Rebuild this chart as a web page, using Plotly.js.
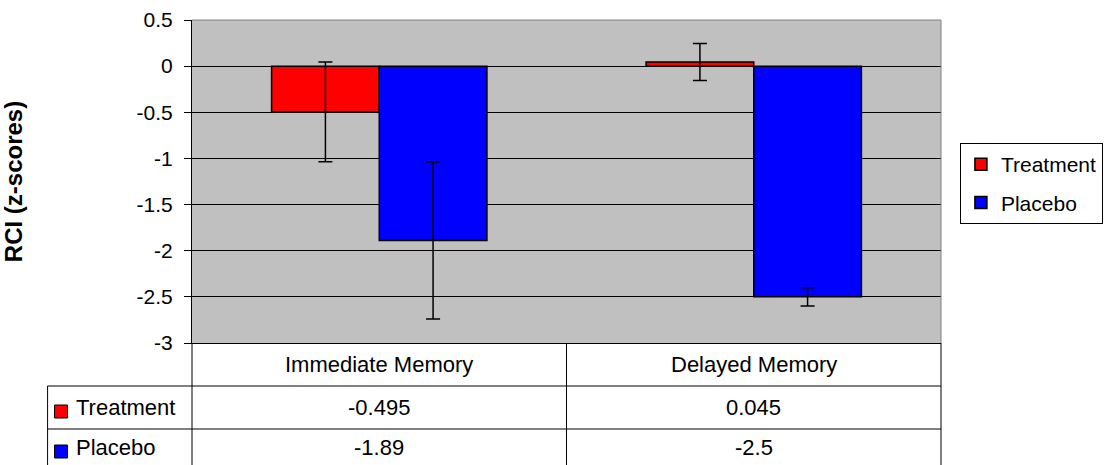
<!DOCTYPE html>
<html>
<head>
<meta charset="utf-8">
<script src="https://cdn.plot.ly/plotly-3.0.1.min.js"></script>
<style>html,body{margin:0;padding:0;background:#fff;}#chart{width:1115px;height:465px;}</style>
</head>
<body>
<div id="chart"></div>
<script>
// ---- data ----
const categories = ["Immediate Memory", "Delayed Memory"];
const seriesNames = ["Treatment", "Placebo"];
const treatment = [-0.495, 0.045];
const placebo = [-1.89, -2.5];
const treatmentErr = [0.54, 0.2];
const placeboErr = [0.85, 0.1];
const yTickVals = [0.5, 0, -0.5, -1, -1.5, -2, -2.5, -3];
const yTickText = ["0.5", "0", "-0.5", "-1", "-1.5", "-2", "-2.5", "-3"];
const tableLabels = [treatment.map(v => String(v)), placebo.map(v => String(v))];
const colors = ["#FF0000", "#0000FF"];

// ---- geometry helpers (plot area: x 192..944, y 20..343) ----
const L = 192, R = 944, T = 20, B = 343;
const px = x => (x - L) / (R - L);
const py = y => (B - y) / (B - T);
const FONT = '"Liberation Sans", Arial, sans-serif';

const errStyle = {type: 'data', visible: true, color: '#000', thickness: 1.5, width: 7};
const traces = [
  {type: 'bar', name: seriesNames[0], x: categories, y: treatment,
   marker: {color: colors[0], line: {color: '#000', width: 1.5}},
   error_y: Object.assign({array: treatmentErr}, errStyle), legendgroup: 'a'},
  {type: 'bar', name: seriesNames[1], x: categories, y: placebo,
   marker: {color: colors[1], line: {color: '#000', width: 1.5}},
   error_y: Object.assign({array: placeboErr}, errStyle), legendgroup: 'b'}
];

const shapes = [];
const line = (x0, y0, x1, y1, color) => shapes.push({type: 'line', xref: 'paper', yref: 'paper',
  x0: px(x0), y0: py(y0), x1: px(x1), y1: py(y1), line: {color: color || '#000', width: 1}});
// plot border (top & right) gray
line(L, T, R, T, '#808080');
line(R, T, R, B, '#808080');
// table grid
line(L, B, L, 465);
line(568, B, 568, 465);
line(R, B, R, 465);
line(47, 386, R, 386);
line(47, 429, R, 429);
line(47, 386, 47, 465);
// table legend keys
const rowCenters = [407.5, 447];
const keyBoxes = [[405, 418], [445, 458]];
seriesNames.forEach((n, i) => {
  shapes.push({type: 'rect', xref: 'paper', yref: 'paper', x0: px(54), x1: px(67),
    y0: py(keyBoxes[i][0]), y1: py(keyBoxes[i][1]), fillcolor: colors[i], line: {color: '#000', width: 1}});
});

const annotations = [];
const tf = {family: FONT, size: 22, color: '#000'};
categories.forEach((c, j) => {
  annotations.push({xref: 'x', yref: 'paper', x: c, y: py(364), text: c, showarrow: false, font: tf, xanchor: 'center', yanchor: 'middle'});
  tableLabels.forEach((row, i) => {
    annotations.push({xref: 'x', yref: 'paper', x: c, y: py(rowCenters[i]), text: row[j], showarrow: false, font: tf, xanchor: 'center', yanchor: 'middle'});
  });
});
seriesNames.forEach((n, i) => {
  annotations.push({xref: 'paper', yref: 'paper', x: px(74), y: py(rowCenters[i]), text: n, showarrow: false, font: tf, xanchor: 'left', yanchor: 'middle'});
});

const layout = {
  width: 1115, height: 465,
  margin: {l: L, r: 1115 - R, t: T, b: 465 - B, pad: 0},
  paper_bgcolor: '#fff', plot_bgcolor: '#C0C0C0',
  font: {family: FONT, size: 21, color: '#000'},
  barmode: 'group', bargap: 0.425, bargroupgap: 0,
  showlegend: true,
  legend: {x: px(963), y: py(143), xanchor: 'left', yanchor: 'top', bgcolor: '#fff',
    bordercolor: '#000', borderwidth: 1, font: {family: FONT, size: 21, color: '#000'},
    traceorder: 'grouped', tracegroupgap: 8, itemwidth: 30},
  xaxis: {type: 'category', showticklabels: false, ticks: '', showgrid: false, zeroline: false,
    showline: true, linecolor: '#000', linewidth: 1, fixedrange: true},
  yaxis: {range: [-3, 0.5], tickvals: yTickVals, ticktext: yTickText, showgrid: true, gridcolor: '#000', gridwidth: 1,
    zeroline: false, showline: true, linecolor: '#000', linewidth: 1, ticks: 'outside', ticklen: 7, tickcolor: '#000',
    ticklabelstandoff: 7, tickfont: {family: FONT, size: 21, color: '#000'},
    title: {text: 'RCI (z-scores)', font: {family: FONT, size: 24, color: '#000', weight: 'bold'}, standoff: 110},
    automargin: false, fixedrange: true},
  shapes: shapes,
  annotations: annotations
};

Plotly.newPlot('chart', traces, layout, {displayModeBar: false, staticPlot: true});
</script>
</body>
</html>
